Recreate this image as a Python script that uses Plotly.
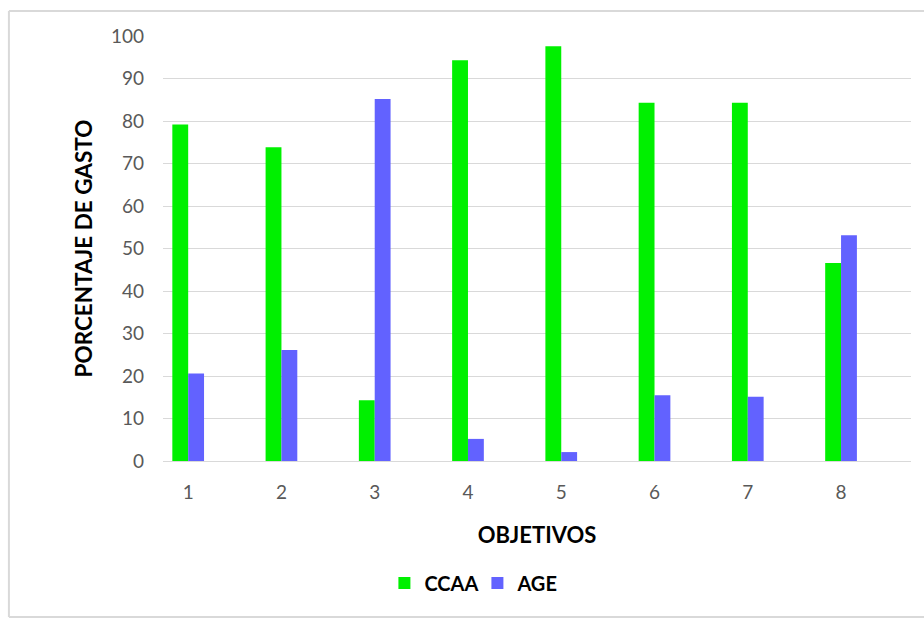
import plotly.graph_objects as go

categories = ["1", "2", "3", "4", "5", "6", "7", "8"]
ccaa = [79.2, 73.8, 14.3, 94.3, 97.6, 84.3, 84.3, 46.6]
age = [20.6, 26.1, 85.2, 5.2, 2.1, 15.5, 15.1, 53.1]
y_ticks = [0, 10, 20, 30, 40, 50, 60, 70, 80, 90, 100]

FONT = "Lato, 'Open Sans', sans-serif"

fig = go.Figure()
fig.add_trace(go.Bar(x=categories, y=ccaa, name="CCAA", marker=dict(color="#00F000", line=dict(width=0))))
fig.add_trace(go.Bar(x=categories, y=age, name="AGE", marker=dict(color="#6262FF", line=dict(width=0))))

fig.update_layout(
    width=924, height=619,
    margin=dict(l=163, r=13, t=36, b=158),
    paper_bgcolor="white", plot_bgcolor="white",
    barmode="group", bargap=0.66, bargroupgap=0,
    font=dict(family=FONT, color="#595959"),
    xaxis=dict(
        type="category", range=[-0.27, 7.75],
        showgrid=False, showline=False, zeroline=False,
        ticks="", tickfont=dict(size=19, color="#595959"),
        ticklabelstandoff=18,
        title=dict(text="OBJETIVOS", font=dict(size=22, color="black", weight="bold"), standoff=25),
    ),
    yaxis=dict(
        range=[0, 100], tickvals=y_ticks,
        showgrid=True, gridcolor="#D9D9D9", gridwidth=1,
        zeroline=True, zerolinecolor="#D9D9D9", zerolinewidth=1,
        showline=False, ticks="",
        tickfont=dict(size=19, color="#595959"),
        ticklabelstandoff=18,
        title=dict(text="PORCENTAJE DE GASTO", font=dict(size=22.5, color="black", weight="bold"), standoff=12),
    ),
    legend=dict(
        orientation="h", x=0.296, xanchor="left", y=-0.287, yanchor="middle",
        font=dict(size=20, color="black", family=FONT, weight="bold"),
        entrywidth=48, entrywidthmode="pixels", traceorder="normal",
    ),
    showlegend=True,
    shapes=[
        dict(type="line", xref="paper", yref="paper", x0=-0.206, x1=1.1, y0=1.059, y1=1.059,
             line=dict(color="#D9D9D9", width=2), layer="below"),
        dict(type="line", xref="paper", yref="paper", x0=-0.206, x1=-0.206, y0=-0.367, y1=1.059,
             line=dict(color="#D9D9D9", width=2), layer="below"),
        dict(type="line", xref="paper", yref="paper", x0=-0.206, x1=1.1, y0=-0.367, y1=-0.367,
             line=dict(color="#D9D9D9", width=2), layer="below"),
    ],
)

fig.write_html("out.html", config={"displayModeBar": False})

with open("out.html", "r", encoding="utf-8") as f:
    html = f.read()
html = html.replace("<body>", '<body style="margin:0;padding:0;overflow:hidden">', 1)
with open("out.html", "w", encoding="utf-8") as f:
    f.write(html)
